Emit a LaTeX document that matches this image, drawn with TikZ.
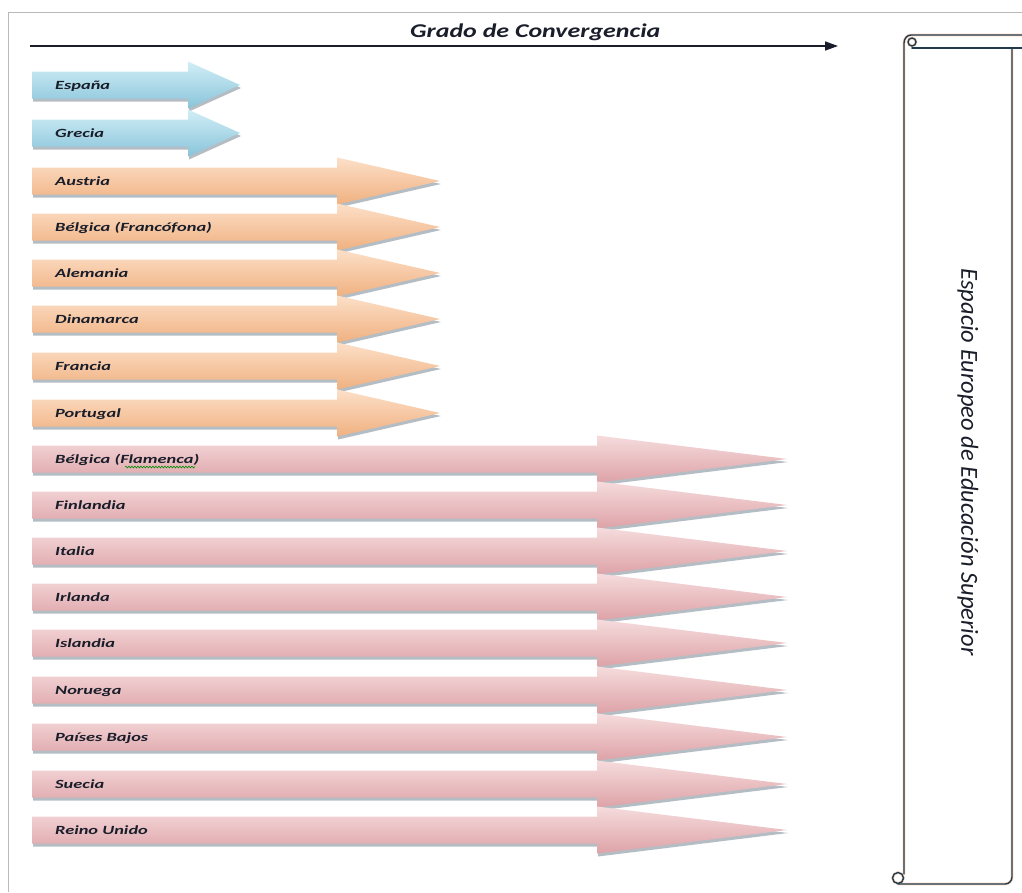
\documentclass[tikz,border=0pt]{standalone}
\usepackage{fontspec}
\setmainfont{Carlito}
\newfontfamily\labfont[FakeStretch=1.47]{Carlito}
\newfontfamily\titfont[FakeStretch=1.33]{Carlito}
\usetikzlibrary{arrows.meta,shadows,decorations.pathmorphing}
\definecolor{bluT}{HTML}{D2EEF7}
\definecolor{bluM}{HTML}{ABDCEC}
\definecolor{bluB}{HTML}{88C4D9}
\definecolor{orT}{HTML}{FCE0C8}
\definecolor{orM}{HTML}{F9CAA2}
\definecolor{orB}{HTML}{F0B080}
\definecolor{pkT}{HTML}{F6DCDD}
\definecolor{pkM}{HTML}{EDC0C2}
\definecolor{pkB}{HTML}{DDA2A7}
\definecolor{shadowc}{HTML}{6C7C8A}
\definecolor{labc}{HTML}{1A1E2A}
\definecolor{scrollc}{HTML}{1F3A4C}
\definecolor{haloc}{HTML}{FAD8C4}
\newcommand\cvarrow[4]{%
  \path[drop shadow={shadow xshift=1pt,shadow yshift=-3pt,fill=shadowc,opacity=.5},
        top color=#4T, middle color=#4M, bottom color=#4B]
    (32,#1-13.5) -- (#2,#1-13.5) -- (#2,#1-23.5) -- (#3,#1) -- (#2,#1+23.5)
    -- (#2,#1+13.5) -- (32,#1+13.5) -- cycle;}
\tikzset{
  lab/.style={anchor=base west, inner sep=0pt, text=labc,
    font=\labfont\bfseries\itshape\fontsize{12.5}{13}\selectfont},
  scrollline/.style={draw=scrollc, line width=1.4pt, line cap=round},
  scrollhalo/.style={draw=haloc, line width=2.8pt, line cap=round},
}
\begin{document}
\begin{tikzpicture}[x=1pt,y=-1pt]
\useasboundingbox (0,0) rectangle (1022,892);
\fill[white] (0,0) rectangle (1022,892);
% frame
\draw[gray!55, line width=1pt] (8,892) -- (8,12) -- (1022,12);
% axis
\coordinate (ax0) at (30,46);
\coordinate (ax1) at (838,46);
\draw[line width=1.5pt, labc, -{Triangle[length=13pt,width=9pt]}] (ax0) -- (ax1);
\node[anchor=base west, inner sep=0pt, text=labc,
  font=\titfont\bfseries\itshape\fontsize{19.5}{20}\selectfont] (title) at (410,37.5) {Grado de Convergencia};
% arrows
\cvarrow{85}{188}{240}{blu}
\cvarrow{133}{188}{240}{blu}
\cvarrow{181}{337}{440}{or}
\cvarrow{227}{337}{440}{or}
\cvarrow{273}{337}{440}{or}
\cvarrow{319}{337}{440}{or}
\cvarrow{366}{337}{440}{or}
\cvarrow{413}{337}{440}{or}
\cvarrow{459}{597}{787}{pk}
\cvarrow{505}{597}{787}{pk}
\cvarrow{551}{597}{787}{pk}
\cvarrow{597}{597}{787}{pk}
\cvarrow{643}{597}{787}{pk}
\cvarrow{690}{597}{787}{pk}
\cvarrow{737}{597}{787}{pk}
\cvarrow{784}{597}{787}{pk}
\cvarrow{830}{597}{787}{pk}
% labels
\node[lab] (l0) at (55,85+4.2) {España};
\node[lab] (l1) at (55,133+4.2) {Grecia};
\node[lab] (l2) at (55,181+4.2) {Austria};
\node[lab] (l3) at (55,227+4.2) {Bélgica (Francófona)};
\node[lab] (l4) at (55,273+4.2) {Alemania};
\node[lab] (l5) at (55,319+4.2) {Dinamarca};
\node[lab] (l6) at (55,366+4.2) {Francia};
\node[lab] (l7) at (55,413+4.2) {Portugal};
\node[lab] (l8) at (55,459+4.2) {Bélgica (Flamenca)};
\node[lab] (l9) at (55,505+4.2) {Finlandia};
\node[lab] (l10) at (55,551+4.2) {Italia};
\node[lab] (l11) at (55,597+4.2) {Irlanda};
\node[lab] (l12) at (55,643+4.2) {Islandia};
\node[lab] (l13) at (55,690+4.2) {Noruega};
\node[lab] (l14) at (55,737+4.2) {Países Bajos};
\node[lab] (l15) at (55,784+4.2) {Suecia};
\node[lab] (l16) at (55,830+4.2) {Reino Unido};
% spell-check squiggle
\coordinate (sq0) at (125,467);
\coordinate (sq1) at (195,467);
\draw[green!55!black, line width=0.6pt, decorate,
  decoration={snake, amplitude=0.9pt, segment length=3pt}] (sq0) -- (sq1);
% scroll
\foreach \st in {scrollhalo,scrollline}{
  \draw[\st] (904,874) -- (904,43) to[out=90,in=180] (911,35) -- (1024,35);
  \draw[\st] (912,42) circle[radius=4];
  \draw[\st] (912,48) -- (1024,48);
  \draw[\st] (1012,48) -- (1012,877) to[out=-90,in=0] (1005,884) -- (898,884);
  \draw[\st] (898,878) circle[radius=5.5];
}
\node[rotate=-90, inner sep=0pt, text=labc, font=\itshape\fontsize{24.5}{25}\selectfont] (eees) at (968,462) {Espacio Europeo de Educación Superior};
\end{tikzpicture}
\end{document}
